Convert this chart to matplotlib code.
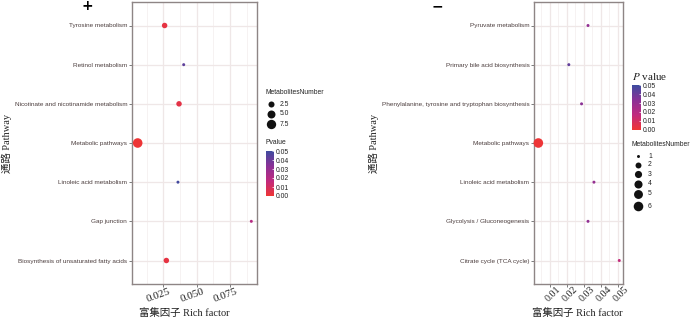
import numpy as np
import matplotlib
matplotlib.use('Agg')
import matplotlib.pyplot as plt
from matplotlib.colors import LinearSegmentedColormap, Normalize
from matplotlib.cm import ScalarMappable
import matplotlib.transforms as mtransforms

plt.rcParams['mathtext.fontset'] = 'stix'

# ---------------- data ----------------
left_pathways = ["Tyrosine metabolism", "Retinol metabolism",
                 "Nicotinate and nicotinamide metabolism", "Metabolic pathways",
                 "Linoleic acid metabolism", "Gap junction",
                 "Biosynthesis of unsaturated fatty acids"]
left_rich = [0.0260, 0.0403, 0.0368, 0.0058, 0.0360, 0.0910, 0.0273]
left_pvalue = [0.003, 0.043, 0.004, 0.0002, 0.049, 0.020, 0.003]
left_number = [2, 1, 2, 8, 1, 1, 2]
left_xticks = [0.025, 0.050, 0.075]
left_xticklabels = ["0.025", "0.050", "0.075"]
left_size_breaks = [2.5, 5.0, 7.5]
left_size_labels = ["2.5", "5.0", "7.5"]

right_pathways = ["Pyruvate metabolism", "Primary bile acid biosynthesis",
                  "Phenylalanine, tyrosine and tryptophan biosynthesis",
                  "Metabolic pathways", "Linoleic acid metabolism",
                  "Glycolysis / Gluconeogenesis", "Citrate cycle (TCA cycle)"]
right_rich = [0.0324, 0.0211, 0.0286, 0.00315, 0.0359, 0.0324, 0.0508]
right_pvalue = [0.031, 0.042, 0.033, 0.0005, 0.030, 0.031, 0.016]
right_number = [1, 1, 1, 6, 1, 1, 1]
right_xticks = [0.01, 0.02, 0.03, 0.04, 0.05]
right_xticklabels = ["0.01", "0.02", "0.03", "0.04", "0.05"]
right_size_breaks = [1, 2, 3, 4, 5, 6]
right_size_labels = ["1", "2", "3", "4", "5", "6"]

pv_ticks = [0.00, 0.01, 0.02, 0.03, 0.04, 0.05]
pv_ticklabels = ["0.00", "0.01", "0.02", "0.03", "0.04", "0.05"]

# ---------------- style ----------------
W, H = 700, 323
fig = plt.figure(figsize=(7, 3.23), dpi=100)

def px_rect(x0, y0, x1, y1):
    return [x0 / W, 1 - y1 / H, (x1 - x0) / W, (y1 - y0) / H]

cmap = LinearSegmentedColormap.from_list(
    'pv', ['#EE3535', '#C02A7E', '#8A3196', '#3F4B9F'])
norm = Normalize(0, 0.05)

SERIF = ['Liberation Serif', 'Noto Sans CJK SC']
SANS = ['Liberation Sans', 'DejaVu Sans']
CAT_COLOR = '#4C3E3E'
GRID = '#EFE7E7'
GRID_MINOR = '#F5F0F0'
SPINE = '#8E8585'


def ggsize(v, vmin, vmax):
    v = np.asarray(v, dtype=float)
    return 1 + 5 * np.sqrt(np.clip((v - vmin) / (vmax - vmin), 0, 1))


def area(size):
    d = 0.95 * np.asarray(size) + 1.2
    return d ** 2


def draw_panel(rect, pathways, rich, pvalue, number, xticks, xticklabels,
               rot, tick_fs, minor_step):
    ax = fig.add_axes(rect)
    n = len(pathways)
    ypos = np.arange(n)
    rich = np.asarray(rich)
    lo, hi = rich.min(), rich.max()
    pad = 0.05 * (hi - lo)
    ax.set_xlim(lo - pad, hi + pad)
    ax.set_ylim(n - 1 + 0.6, -0.6)
    # grid
    x0, x1 = ax.get_xlim()
    minors = np.arange(0, x1 + minor_step, minor_step)
    for m in minors:
        if x0 < m < x1 and not np.any(np.isclose(m, xticks)):
            ax.axvline(m, color=GRID_MINOR, lw=0.6, zorder=0)
    for t in xticks:
        ax.axvline(t, color=GRID, lw=0.9, zorder=0)
    for y in ypos:
        ax.axhline(y, color=GRID, lw=0.9, zorder=0)
    sizes = ggsize(number, min(number), max(number))
    ax.scatter(rich, ypos, s=area(sizes), c=pvalue, cmap=cmap, norm=norm,
               linewidths=0, zorder=3, clip_on=False)
    ax.set_yticks(ypos)
    ax.set_yticklabels(pathways, family=SANS, fontsize=4.6, color=CAT_COLOR)
    ax.set_xticks(xticks)
    ax.set_xticklabels(xticklabels, family=SERIF, fontsize=tick_fs,
                       color='#222222', rotation=rot, ha='center',
                       va='top', rotation_mode='anchor')
    ax.tick_params(axis='both', length=2, width=0.6, color='#666666', pad=1.5)
    ax.tick_params(axis='x', pad=3)
    for s in ax.spines.values():
        s.set_color(SPINE)
        s.set_linewidth(1.0)
    return ax


axL = draw_panel(px_rect(132, 2, 257, 284), left_pathways, left_rich,
                 left_pvalue, left_number, left_xticks, left_xticklabels,
                 20, 8, 0.0125)
offset = mtransforms.ScaledTranslation(-6 / 100, 0, fig.dpi_scale_trans)
for lab in axL.get_xticklabels():
    lab.set_transform(lab.get_transform() + offset)

axR = draw_panel(px_rect(534.3, 2, 623.3, 284), right_pathways, right_rich,
                 right_pvalue, right_number, right_xticks, right_xticklabels,
                 45, 7.2, 0.005)

# axis titles
for x in (7, 374):
    fig.text(x / W, 1 - 143 / H, '通路 Pathway', rotation=90, family=SERIF,
             fontsize=7.5, ha='center', va='center', color='#222222')
for x in (184, 577):
    fig.text(x / W, 1 - 313 / H, '富集因子 Rich factor', family=SERIF,
             fontsize=7.5, ha='center', va='center', color='#222222')

# panel labels
fig.text(87 / W, 1 - 6 / H, '+', fontsize=10, fontweight='bold',
         ha='center', va='center', family='DejaVu Sans')
fig.text(437 / W, 1 - 6 / H, '\u2212', fontsize=10, fontweight='bold',
         ha='center', va='center', family='DejaVu Sans')

# ---------------- legends ----------------
ov = fig.add_axes([0, 0, 1, 1], zorder=5)
ov.set_xlim(0, W)
ov.set_ylim(H, 0)
ov.axis('off')
LEG_FS = 4.9

# left size legend
ov.text(265.5, 93, 'MetabolitesNumber', family=SANS, fontsize=LEG_FS,
        va='center', ha='left', color='#222222')
lsz = ggsize(left_size_breaks, min(left_number), max(left_number))
for yy, sz, lab in zip([104, 113.5, 124], lsz, left_size_labels):
    ov.scatter([271], [yy], s=area(sz), color='#111111', linewidths=0)
    ov.text(279.5, yy, lab, family=SANS, fontsize=LEG_FS, va='center',
            ha='left', color='#222222')
ov.text(265.5, 143, 'Pvalue', family=SANS, fontsize=LEG_FS, va='center',
        ha='left', color='#222222')

# right colour legend title
ov.text(632, 76, r'$P$ value', family=SERIF, fontsize=8, va='center',
        ha='left', color='#222222')
# right size legend
ov.text(632, 145, 'MetabolitesNumber', family=SANS, fontsize=LEG_FS,
        va='center', ha='left', color='#222222')
rsz = ggsize(right_size_breaks, min(right_number), max(right_number))
for yy, sz, lab in zip([156, 165, 174, 183.5, 193.5, 206], rsz,
                       right_size_labels):
    ov.scatter([637.7], [yy], s=area(sz), color='#111111', linewidths=0)
    ov.text(648, yy, lab, family=SANS, fontsize=LEG_FS, va='center',
            ha='left', color='#222222')


def colorbar(rect):
    cax = fig.add_axes(rect, zorder=6)
    cb = fig.colorbar(ScalarMappable(norm=norm, cmap=cmap), cax=cax)
    cb.set_ticks(pv_ticks)
    cb.set_ticklabels(pv_ticklabels)
    cb.outline.set_visible(False)
    cax.tick_params(length=1.5, width=0.5, color='white', direction='in',
                    labelsize=LEG_FS, pad=1.5, labelcolor='#222222')
    for lab in cax.get_yticklabels():
        lab.set_family(SANS)
    return cb


colorbar(px_rect(265.5, 151, 274, 196))
colorbar(px_rect(632, 85.5, 640.5, 129.5))

fig.savefig('out.png', dpi=100)
